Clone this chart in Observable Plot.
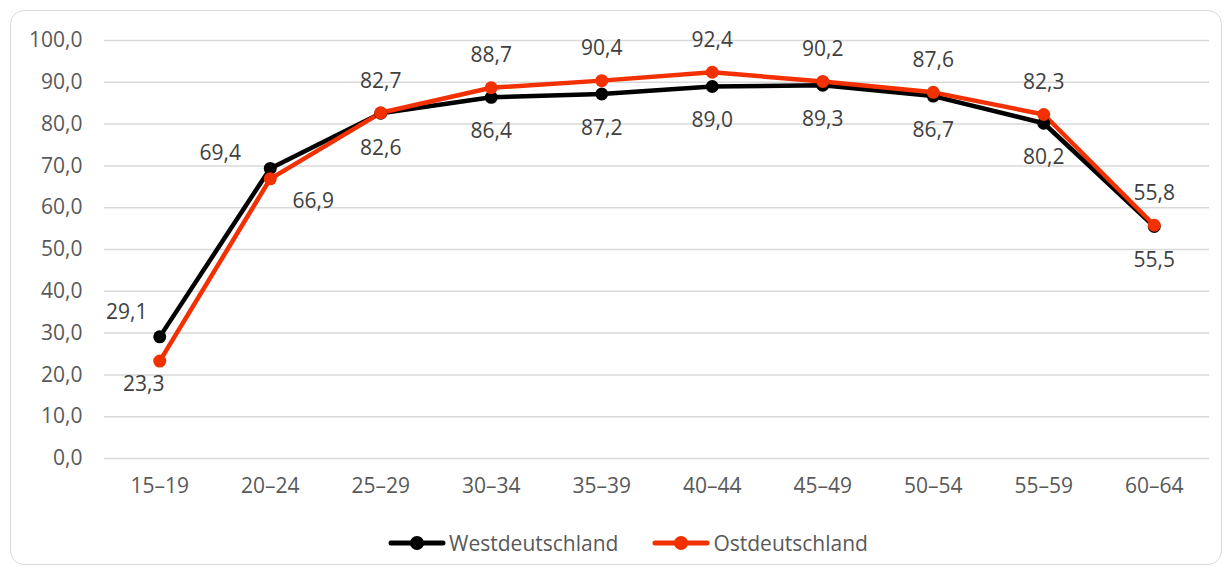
<!DOCTYPE html>
<html>
<head>
<meta charset="utf-8">
<script src="https://cdn.jsdelivr.net/npm/d3@7"></script>
<script src="https://cdn.jsdelivr.net/npm/@observablehq/plot@0.6"></script>
<style>
  html, body { margin: 0; padding: 0; background: #fff; }
  body { width: 1224px; height: 571px; position: relative; overflow: hidden; font-family: "Open Sans", "Noto Sans", sans-serif; }
  #frame { position: absolute; left: 10px; top: 10px; width: 1210px; height: 553px; border: 1px solid #d9d9d9; border-radius: 14px; box-sizing: content-box; }
  #legend { position: absolute; left: 12px; top: 518px; width: 1210px; display: flex; justify-content: center; align-items: center; gap: 34px; font-size: 21px; color: #595959; }
  .item { display: flex; align-items: center; gap: 3px; }
</style>
</head>
<body>
<div id="frame">
  <div id="chart"></div>
  <div id="legend"></div>
</div>
<script>
const categories = ["15–19", "20–24", "25–29", "30–34", "35–39", "40–44", "45–49", "50–54", "55–59", "60–64"];
const seriesNames = ["Westdeutschland", "Ostdeutschland"];
const westValues = [29.1, 69.4, 82.6, 86.4, 87.2, 89.0, 89.3, 86.7, 80.2, 55.5];
const ostValues  = [23.3, 66.9, 82.7, 88.7, 90.4, 92.4, 90.2, 87.6, 82.3, 55.8];
const yTicks = [0, 10, 20, 30, 40, 50, 60, 70, 80, 90, 100];

const colors = { "Westdeutschland": "#000000", "Ostdeutschland": "#f23000" };

// label placement (dx, dy) per point, as in the original chart
const westLabelOffsets = [[-33, -25], [-50, -15], [0, 35], [0, 34], [0, 34], [0, 34], [0, 34], [0, 34], [0, 34], [0, 34]];
const ostLabelOffsets  = [[-16, 23], [43, 22], [0, -32], [0, -32], [0, -32], [0, -32], [0, -32], [0, -32], [0, -32], [0, -32]];

const rows = [];
categories.forEach((c, i) => {
  rows.push({ cat: c, series: seriesNames[0], value: westValues[i], dx: westLabelOffsets[i][0], dy: westLabelOffsets[i][1] });
});
categories.forEach((c, i) => {
  rows.push({ cat: c, series: seriesNames[1], value: ostValues[i], dx: ostLabelOffsets[i][0], dy: ostLabelOffsets[i][1] });
});

const fmt = d => d.toFixed(1).replace(".", ",");

const labelMarks = rows.map(r => Plot.text([r], {
  x: "cat", y: "value", text: d => fmt(d.value),
  dx: r.dx, dy: r.dy, fill: "#404040", fontSize: 21
}));

const chart = Plot.plot({
  width: 1210,
  height: 500,
  marginLeft: 93,
  marginRight: 12,
  marginTop: 29,
  marginBottom: 53,
  style: { fontFamily: "'Open Sans', 'Noto Sans', sans-serif", fontSize: "21px", color: "#595959", background: "transparent" },
  x: { type: "point", domain: categories, padding: 0.5, round: false, label: null },
  y: { domain: [0, 100], label: null },
  marks: [
    Plot.gridY(yTicks, { stroke: "#d9d9d9", strokeOpacity: 1, strokeWidth: 1.5 }),
    Plot.axisY(yTicks, { tickSize: 0, tickPadding: 22, tickFormat: fmt, fill: "#595959", fontSize: 21, label: null }),
    Plot.axisX({ tickSize: 0, tickPadding: 20, fill: "#595959", fontSize: 21, label: null }),
    Plot.line(rows, { x: "cat", y: "value", z: "series", stroke: d => colors[d.series], strokeWidth: 4.5, strokeLinejoin: "round", strokeLinecap: "round" }),
    Plot.dot(rows, { x: "cat", y: "value", fill: d => colors[d.series], r: 6.5, stroke: "none" }),
    ...labelMarks
  ]
});
document.getElementById("chart").appendChild(chart);

const legend = document.getElementById("legend");
seriesNames.forEach(name => {
  const item = document.createElement("div");
  item.className = "item";
  const c = colors[name];
  item.innerHTML = `<svg width="58" height="20"><line x1="3" y1="10" x2="55" y2="10" stroke="${c}" stroke-width="5" stroke-linecap="round"/><circle cx="29" cy="10" r="7" fill="${c}"/></svg><span>${name}</span>`;
  legend.appendChild(item);
});
</script>
</body>
</html>
